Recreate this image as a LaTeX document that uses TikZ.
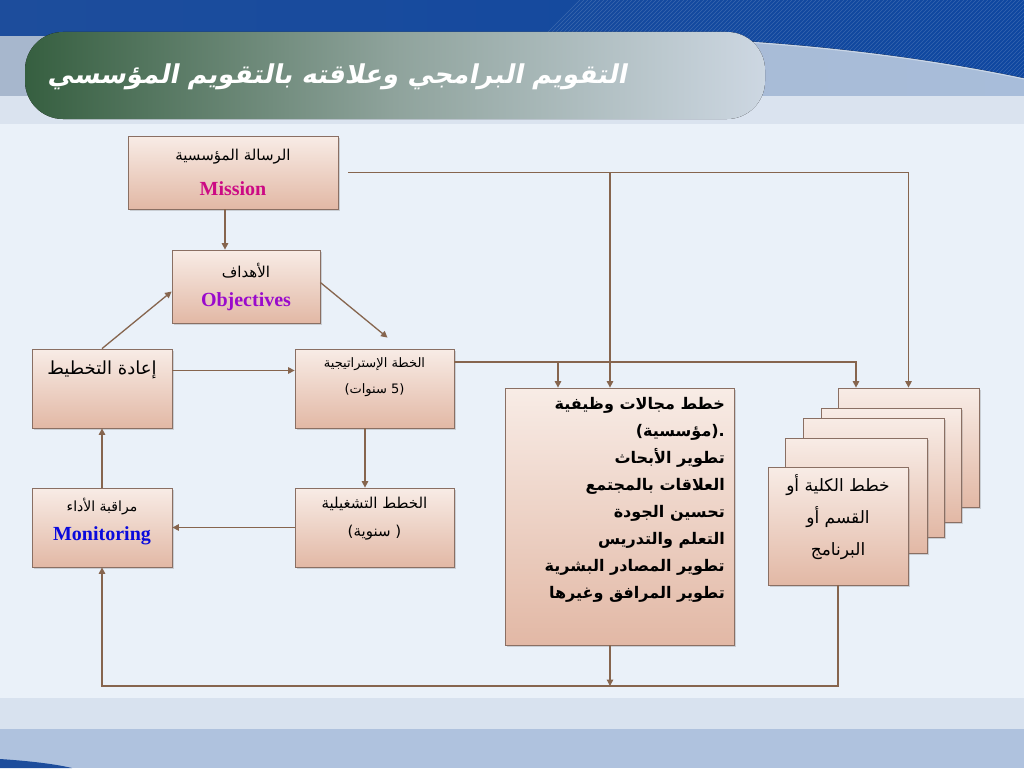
\documentclass[tikz,border=0pt]{standalone}
\usepackage{fontspec}
\setmainfont{Liberation Serif}
\newfontfamily\arabfont[Script=Arabic]{DejaVu Sans}
\newfontfamily\arabbold[Script=Arabic]{DejaVu Sans Bold}
\newfontfamily\arabtitle[Script=Arabic,FakeSlant=0.2]{DejaVu Sans Bold}
\TeXXeTstate=1
\usetikzlibrary{arrows.meta,shadows,calc}

\definecolor{boxtop}{HTML}{F8ECE6}
\definecolor{boxbot}{HTML}{E2B8A5}
\definecolor{boxline}{HTML}{8A6F63}
\definecolor{linkbrown}{HTML}{86654E}
\definecolor{missioncol}{HTML}{CC0A84}
\definecolor{objcol}{HTML}{9A0ACC}
\definecolor{moncol}{HTML}{0A0ADC}
\definecolor{pagebg}{HTML}{EAF1F9}
\definecolor{topblue}{HTML}{1D4D9C}
\definecolor{topblueR}{HTML}{0F47A0}
\definecolor{bandL}{HTML}{A7B7CD}
\definecolor{bandR}{HTML}{A8BDDA}
\definecolor{bandlow}{HTML}{DAE3EF}
\definecolor{pillgreen}{HTML}{365F40}
\definecolor{pillmid}{HTML}{8FA39C}
\definecolor{pillfade}{HTML}{CDD7E2}
\definecolor{footA}{HTML}{D8E2EF}
\definecolor{footB}{HTML}{AFC2DE}

\tikzset{
  pbox/.style={draw=boxline, line width=0.8pt, top color=boxtop, bottom color=boxbot,
    drop shadow={opacity=0.3, shadow xshift=1.5pt, shadow yshift=-1.5pt}, inner sep=0pt},
  link/.style={draw=linkbrown, line width=1.3pt, -{Triangle[width=6.5pt,length=6.5pt]}},
  artxt/.style={inner sep=0pt, font=\arabfont\fontsize{15}{18}\selectfont},
  entxt/.style={inner sep=0pt, font=\bfseries\fontsize{20}{24}\selectfont}
}

\begin{document}
\begin{tikzpicture}[x=1pt,y=-1pt]
\useasboundingbox (0,0) rectangle (1024,768);

%background
  \fill[pagebg] (0,0) rectangle (1024,768);
  \fill[left color=bandL, right color=bandR] (0,35) rectangle (1024,96);
  \fill[bandlow] (0,96) rectangle (1024,124);
  \fill[left color=topblue, right color=topblueR]
    (0,0) -- (1024,0) -- (1024,78) .. controls (900,52) and (760,38) .. (620,36) -- (0,36) -- cycle;
  \begin{scope}
    \clip (540,0) -- (1024,0) -- (1024,78) .. controls (900,52) and (760,38) .. (620,36) -- (540,36) -- cycle;
    \foreach \s in {500,504,...,1060}
      \draw[white, opacity=0.16, line width=0.6pt] (\s,80) -- (\s+80,0);
  \end{scope}
  \draw[white, opacity=0.4, line width=1pt] (620,37) .. controls (760,39) and (900,53) .. (1024,79);
  \fill[footA] (0,698) rectangle (1024,729);
  \fill[footB] (0,729) rectangle (1024,768);
  \fill[topblue] (0,759) .. controls (30,761) and (55,764) .. (72,768) -- (0,768) -- cycle;

%title
  \fill[left color=pillgreen, right color=pillfade, middle color=pillmid, rounded corners=38pt]
    (25,32) rectangle (765,119);
  \node[inner sep=0pt, text=white, font=\arabtitle\fontsize{26}{31}\selectfont] (Ttl) at (337,77)
    {\beginR التقويم البرامجي وعلاقته بالتقويم المؤسسي\endR};

%boxes
  \node[pbox, minimum width=210pt, minimum height=73pt] (Msn) at (233,172.5) {};
  \node[pbox, minimum width=148pt, minimum height=73pt] (Obj) at (246,286.5) {};
  \node[pbox, minimum width=140pt, minimum height=79pt] (Repl) at (102,388.5) {};
  \node[pbox, minimum width=159pt, minimum height=79pt] (Strat) at (374.5,388.5) {};
  \node[pbox, minimum width=159pt, minimum height=79pt] (Oper) at (374.5,527.5) {};
  \node[pbox, minimum width=140pt, minimum height=79pt] (Mon) at (102,527.5) {};
  \node[pbox, minimum width=229pt, minimum height=257pt] (Func) at (619.5,516.5) {};

%stack
  \node[pbox, minimum width=141pt, minimum height=119pt] (StkA) at (908.5,447.5) {};
  \node[pbox, minimum width=140pt, minimum height=114pt] (StkB) at (891,465) {};
  \node[pbox, minimum width=141pt, minimum height=119pt] (StkC) at (873.5,477.5) {};
  \node[pbox, minimum width=142pt, minimum height=115pt] (StkD) at (856,495.5) {};
  \node[pbox, minimum width=140pt, minimum height=118pt] (StkE) at (838,526) {};

%texts
  \node[artxt] (MsnA) at (233,157) {\beginR الرسالة المؤسسية\endR};
  \node[entxt, text=missioncol] (MsnB) at (233,189) {Mission};
  \node[artxt] (ObjA) at (246,271) {\beginR الأهداف\endR};
  \node[entxt, text=objcol] (ObjB) at (246,302) {Objectives};
  \node[artxt, font=\arabfont\fontsize{18}{22}\selectfont] (ReplA) at (102,370) {\beginR إعادة التخطيط\endR};
  \node[artxt, font=\arabfont\fontsize{13}{16}\selectfont] (StratA) at (374.5,364) {\beginR الخطة الإستراتيجية\endR};
  \node[artxt, font=\arabfont\fontsize{13}{16}\selectfont] (StratB) at (374.5,390) {\beginR (5 سنوات)\endR};
  \node[artxt] (OperA) at (374.5,504) {\beginR الخطط التشغيلية\endR};
  \node[artxt] (OperB) at (374.5,533) {\beginR ( سنوية)\endR};
  \node[artxt, font=\arabfont\fontsize{14}{17}\selectfont] (MonA) at (102,507) {\beginR مراقبة الأداء\endR};
  \node[entxt, text=moncol] (MonB) at (102,536) {Monitoring};
  \node[inner sep=0pt, anchor=north east, align=right, font=\arabbold\fontsize{16}{27}\selectfont]
    (FuncA) at (725,397) {\beginR خطط مجالات وظيفية\endR\\ \beginR .(مؤسسية)\endR\\
    \beginR تطوير الأبحاث\endR\ \\ \beginR العلاقات بالمجتمع\endR\\ \beginR تحسين الجودة\endR\\
    \beginR التعلم والتدريس\endR\\ \beginR تطوير المصادر البشرية\endR\\ \beginR تطوير المرافق وغيرها\endR};
  \node[inner sep=0pt, align=center, font=\arabfont\fontsize{17}{32}\selectfont] (StkT) at (838,517)
    {\beginR خطط الكلية أو\endR\\ \beginR القسم أو\endR\\ \beginR البرنامج\endR};

%links
  \coordinate (MsnOut) at ($(Msn.east)+(10,0)$);
  \coordinate (MsnJ) at (610,172.5);
  \coordinate (MsnK) at (StkA.north |- MsnOut);
  \coordinate (StratJ) at (558,362);
  \coordinate (StratK) at (856,362);
  \coordinate (BotJ) at (610,686);
  \coordinate (BotR) at (StkE.south |- BotJ);
  \coordinate (BotL) at (Mon.south |- BotJ);
  \draw[link] ($(Msn.south)+(-8,0)$) -- ($(Obj.north)+(-21,0)$);
  \draw[link] ($(Obj.east)+(0,-4)$) -- ($(Strat.north)+(13,-11)$);
  \draw[link] (Repl.north) -- ($(Obj.west)+(0,5)$);
  \draw[link] ($(Repl.east)+(0,-18)$) -- ($(Strat.west)+(0,-18)$);
  \draw[link] ($(Strat.south)+(-9.5,0)$) -- ($(Oper.north)+(-9.5,0)$);
  \draw[link] (Oper.west) -- (Mon.east);
  \draw[link] (Mon.north) -- (Repl.south);
  \draw[link] (MsnOut) -- (MsnK) -- (StkA.north);
  \draw[link] (MsnJ) -- (MsnJ |- Func.north);
  \draw[link] (Strat.east |- StratK) -- (StratK) -- (StratK |- StkA.north);
  \draw[link] (StratJ) -- (StratJ |- Func.north);
  \draw[link] (BotJ |- Func.south) -- (BotJ);
  \draw[link] (StkE.south) -- (BotR) -- (BotL) -- (Mon.south);
\end{tikzpicture}
\end{document}
